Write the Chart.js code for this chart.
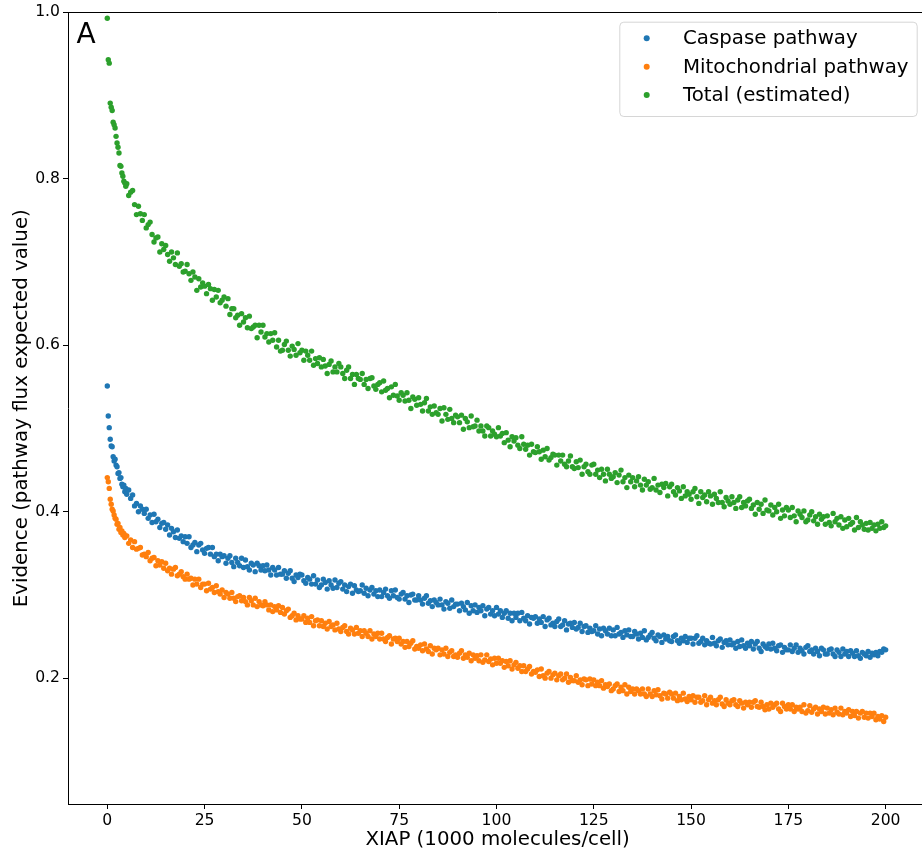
<!DOCTYPE html>
<html><head><meta charset="utf-8">
<script src="https://cdn.jsdelivr.net/npm/chart.js@4/dist/chart.umd.min.js"></script>
<style>
html,body{margin:0;padding:0;background:#fff;overflow:hidden;width:922px;height:855px;}
#wrap{position:relative;width:922px;height:855px;overflow:hidden;}
canvas{position:absolute;left:0;top:0;}
</style></head><body>
<div id="wrap"><canvas id="c" width="930" height="855"></canvas></div>
<script>
const xValues = [
0,0.25,0.5,0.75,1,1.25,1.5,1.75,2,2.25,2.5,2.75,3,3.25,3.5,3.75,4,4.25,4.5,4.75,
5,5.5,6,6.5,7,7.5,8,8.5,9,9.5,
10,10.5,11,11.5,12,12.5,13,13.5,14,14.5,
15,15.5,16,16.5,17,17.5,18,18.5,19,19.5,
20,20.5,21,21.5,22,22.5,23,23.5,24,24.5,
25,25.5,26,26.5,27,27.5,28,28.5,29,29.5,
30,30.5,31,31.5,32,32.5,33,33.5,34,34.5,
35,35.5,36,36.5,37,37.5,38,38.5,39,39.5,
40,40.5,41,41.5,42,42.5,43,43.5,44,44.5,
45,45.5,46,46.5,47,47.5,48,48.5,49,49.5,
50,50.5,51,51.5,52,52.5,53,53.5,54,54.5,
55,55.5,56,56.5,57,57.5,58,58.5,59,59.5,
60,60.5,61,61.5,62,62.5,63,63.5,64,64.5,
65,65.5,66,66.5,67,67.5,68,68.5,69,69.5,
70,70.5,71,71.5,72,72.5,73,73.5,74,74.5,
75,75.5,76,76.5,77,77.5,78,78.5,79,79.5,
80,80.5,81,81.5,82,82.5,83,83.5,84,84.5,
85,85.5,86,86.5,87,87.5,88,88.5,89,89.5,
90,90.5,91,91.5,92,92.5,93,93.5,94,94.5,
95,95.5,96,96.5,97,97.5,98,98.5,99,99.5,
100,100.5,101,101.5,102,102.5,103,103.5,104,104.5,
105,105.5,106,106.5,107,107.5,108,108.5,109,109.5,
110,110.5,111,111.5,112,112.5,113,113.5,114,114.5,
115,115.5,116,116.5,117,117.5,118,118.5,119,119.5,
120,120.5,121,121.5,122,122.5,123,123.5,124,124.5,
125,125.5,126,126.5,127,127.5,128,128.5,129,129.5,
130,130.5,131,131.5,132,132.5,133,133.5,134,134.5,
135,135.5,136,136.5,137,137.5,138,138.5,139,139.5,
140,140.5,141,141.5,142,142.5,143,143.5,144,144.5,
145,145.5,146,146.5,147,147.5,148,148.5,149,149.5,
150,150.5,151,151.5,152,152.5,153,153.5,154,154.5,
155,155.5,156,156.5,157,157.5,158,158.5,159,159.5,
160,160.5,161,161.5,162,162.5,163,163.5,164,164.5,
165,165.5,166,166.5,167,167.5,168,168.5,169,169.5,
170,170.5,171,171.5,172,172.5,173,173.5,174,174.5,
175,175.5,176,176.5,177,177.5,178,178.5,179,179.5,
180,180.5,181,181.5,182,182.5,183,183.5,184,184.5,
185,185.5,186,186.5,187,187.5,188,188.5,189,189.5,
190,190.5,191,191.5,192,192.5,193,193.5,194,194.5,
195,195.5,196,196.5,197,197.5,198,198.5,199,199.5,
200];

const caspase = [
0.551,0.515,0.501,0.487,0.479,0.478,0.466,0.461,0.463,0.456,0.454,0.446,0.447,0.440,0.441,0.433,0.430,0.432,0.424,0.428,
0.421,0.426,0.416,0.420,0.407,0.410,0.400,0.407,0.403,0.398,
0.403,0.392,0.396,0.387,0.397,0.388,0.391,0.381,0.386,0.387,
0.379,0.384,0.372,0.380,0.376,0.369,0.378,0.368,0.371,0.364,
0.370,0.362,0.370,0.357,0.360,0.363,0.352,0.360,0.362,0.354,
0.350,0.356,0.357,0.349,0.357,0.346,0.349,0.341,0.349,0.346,
0.347,0.338,0.344,0.347,0.339,0.334,0.344,0.339,0.335,0.344,
0.333,0.342,0.334,0.330,0.338,0.336,0.328,0.338,0.335,0.330,
0.335,0.329,0.336,0.330,0.324,0.333,0.330,0.324,0.333,0.325,
0.325,0.329,0.320,0.326,0.329,0.320,0.316,0.324,0.321,0.325,
0.324,0.317,0.314,0.321,0.319,0.313,0.323,0.313,0.318,0.309,
0.312,0.319,0.315,0.307,0.317,0.312,0.308,0.318,0.309,0.314,
0.316,0.307,0.312,0.304,0.310,0.313,0.302,0.311,0.306,0.304,
0.305,0.312,0.302,0.308,0.299,0.306,0.309,0.301,0.305,0.298,
0.306,0.298,0.303,0.307,0.299,0.296,0.305,0.299,0.306,0.297,
0.295,0.301,0.303,0.295,0.299,0.291,0.300,0.301,0.294,0.294,
0.299,0.294,0.289,0.296,0.299,0.290,0.293,0.286,0.294,0.291,
0.288,0.295,0.288,0.283,0.292,0.290,0.284,0.294,0.286,0.289,
0.289,0.281,0.290,0.286,0.282,0.291,0.278,0.287,0.281,0.288,
0.279,0.285,0.281,0.287,0.275,0.283,0.285,0.277,0.281,0.275,
0.285,0.277,0.281,0.273,0.278,0.281,0.272,0.278,0.269,0.278,
0.273,0.278,0.269,0.279,0.272,0.269,0.275,0.265,0.273,0.272,
0.274,0.266,0.271,0.267,0.274,0.262,0.270,0.272,0.264,0.266,
0.262,0.268,0.271,0.262,0.264,0.269,0.258,0.265,0.266,0.261,
0.267,0.259,0.261,0.266,0.256,0.262,0.263,0.255,0.260,0.256,
0.257,0.263,0.253,0.259,0.251,0.260,0.257,0.253,0.260,0.251,
0.258,0.251,0.261,0.253,0.255,0.249,0.257,0.252,0.258,0.250,
0.250,0.256,0.253,0.247,0.254,0.249,0.257,0.246,0.249,0.252,
0.255,0.248,0.245,0.252,0.250,0.243,0.252,0.247,0.250,0.245,
0.244,0.250,0.252,0.245,0.242,0.248,0.245,0.250,0.243,0.248,
0.248,0.241,0.248,0.251,0.242,0.244,0.248,0.240,0.245,0.242,
0.241,0.249,0.242,0.239,0.245,0.247,0.237,0.243,0.245,0.240,
0.246,0.240,0.242,0.236,0.244,0.238,0.246,0.239,0.236,0.242,
0.239,0.244,0.235,0.241,0.244,0.236,0.232,0.241,0.238,0.236,
0.241,0.235,0.242,0.236,0.233,0.239,0.240,0.231,0.237,0.234,
0.234,0.240,0.232,0.236,0.240,0.231,0.236,0.233,0.229,0.237,
0.239,0.232,0.234,0.229,0.236,0.232,0.227,0.236,0.234,0.229,
0.229,0.234,0.235,0.229,0.226,0.234,0.231,0.226,0.235,0.229,
0.232,0.226,0.233,0.230,0.226,0.233,0.227,0.224,0.231,0.229,
0.227,0.232,0.225,0.230,0.228,0.231,0.227,0.232,0.231,0.235,
0.234];

const mitochondrial = [
0.441,0.436,0.428,0.415,0.409,0.403,0.401,0.396,0.392,0.391,0.385,0.386,0.379,0.381,0.375,0.377,0.372,0.374,0.369,0.371,
0.371,0.362,0.366,0.357,0.364,0.355,0.356,0.357,0.348,0.349,
0.346,0.351,0.341,0.344,0.345,0.335,0.341,0.336,0.340,0.332,
0.338,0.329,0.332,0.325,0.331,0.333,0.323,0.325,0.328,0.322,
0.319,0.325,0.319,0.320,0.312,0.319,0.313,0.319,0.309,0.313,
0.313,0.305,0.314,0.307,0.309,0.303,0.311,0.304,0.301,0.306,
0.297,0.303,0.301,0.296,0.303,0.296,0.292,0.298,0.299,0.293,
0.297,0.292,0.288,0.297,0.293,0.288,0.296,0.286,0.292,0.288,
0.287,0.292,0.288,0.282,0.288,0.280,0.286,0.282,0.287,0.279,
0.285,0.277,0.281,0.283,0.273,0.275,0.278,0.270,0.275,0.271,
0.271,0.275,0.267,0.272,0.267,0.274,0.263,0.269,0.270,0.263,
0.269,0.262,0.266,0.259,0.268,0.262,0.264,0.258,0.266,0.259,
0.256,0.261,0.263,0.256,0.253,0.260,0.258,0.253,0.261,0.254,
0.257,0.250,0.257,0.254,0.250,0.257,0.247,0.253,0.250,0.254,
0.247,0.254,0.247,0.244,0.249,0.251,0.241,0.247,0.248,0.244,
0.248,0.241,0.244,0.237,0.244,0.238,0.242,0.245,0.235,0.238,
0.236,0.240,0.233,0.241,0.235,0.232,0.239,0.229,0.236,0.234,
0.236,0.228,0.234,0.229,0.236,0.226,0.231,0.233,0.226,0.228,
0.225,0.230,0.233,0.224,0.228,0.225,0.230,0.221,0.228,0.224,
0.227,0.221,0.228,0.219,0.222,0.228,0.220,0.223,0.216,0.224,
0.218,0.224,0.218,0.221,0.213,0.220,0.215,0.221,0.211,0.216,
0.219,0.212,0.215,0.208,0.215,0.208,0.211,0.214,0.205,0.208,
0.207,0.210,0.202,0.211,0.203,0.200,0.206,0.208,0.200,0.204,
0.206,0.198,0.203,0.205,0.198,0.200,0.205,0.195,0.201,0.197,
0.197,0.203,0.195,0.198,0.192,0.199,0.198,0.191,0.199,0.193,
0.198,0.191,0.195,0.191,0.197,0.188,0.192,0.190,0.193,0.185,
0.187,0.191,0.193,0.184,0.189,0.185,0.192,0.181,0.189,0.184,
0.187,0.181,0.187,0.185,0.181,0.187,0.181,0.178,0.187,0.181,
0.178,0.185,0.180,0.186,0.179,0.175,0.182,0.181,0.176,0.183,
0.181,0.176,0.182,0.173,0.178,0.174,0.182,0.175,0.172,0.178,
0.174,0.179,0.171,0.177,0.177,0.171,0.173,0.179,0.168,0.174,
0.177,0.170,0.173,0.168,0.174,0.177,0.169,0.166,0.174,0.170,
0.168,0.173,0.174,0.168,0.166,0.173,0.170,0.164,0.171,0.168,
0.171,0.165,0.171,0.173,0.166,0.165,0.171,0.166,0.162,0.168,
0.163,0.170,0.165,0.168,0.170,0.163,0.160,0.170,0.166,0.163,
0.168,0.163,0.168,0.160,0.165,0.163,0.165,0.160,0.168,0.158,
0.161,0.167,0.159,0.163,0.165,0.157,0.163,0.160,0.165,0.157,
0.164,0.158,0.162,0.156,0.164,0.159,0.157,0.164,0.156,0.160,
0.158,0.162,0.154,0.160,0.155,0.160,0.152,0.158,0.160,0.153,
0.158,0.152,0.158,0.154,0.158,0.150,0.154,0.151,0.155,0.148,
0.153];

const totalEstimated = [
0.993,0.943,0.939,0.891,0.886,0.882,0.868,0.865,0.861,0.851,0.843,0.838,0.831,0.816,0.815,0.807,0.803,0.797,0.795,0.791,
0.794,0.780,0.784,0.786,0.769,0.757,0.767,0.758,0.750,0.757,
0.741,0.745,0.748,0.733,0.724,0.729,0.730,0.712,0.722,0.715,
0.720,0.709,0.701,0.712,0.705,0.697,0.711,0.695,0.698,0.688,
0.689,0.697,0.686,0.678,0.688,0.682,0.666,0.680,0.670,0.675,
0.671,0.662,0.673,0.668,0.654,0.667,0.658,0.666,0.651,0.654,
0.658,0.647,0.656,0.637,0.644,0.644,0.633,0.636,0.624,0.638,
0.628,0.633,0.621,0.635,0.620,0.622,0.624,0.609,0.624,0.616,
0.624,0.610,0.614,0.604,0.614,0.606,0.615,0.598,0.606,0.593,
0.594,0.601,0.605,0.594,0.587,0.599,0.595,0.588,0.602,0.591,
0.594,0.582,0.593,0.588,0.582,0.593,0.576,0.584,0.578,0.585,
0.574,0.583,0.575,0.566,0.577,0.581,0.568,0.574,0.568,0.578,
0.574,0.566,0.560,0.570,0.574,0.560,0.565,0.553,0.565,0.560,
0.559,0.566,0.553,0.559,0.548,0.560,0.561,0.551,0.547,0.553,
0.555,0.544,0.557,0.546,0.548,0.537,0.550,0.540,0.553,0.539,
0.534,0.543,0.540,0.533,0.543,0.534,0.524,0.538,0.535,0.528,
0.537,0.529,0.521,0.531,0.536,0.521,0.526,0.517,0.527,0.519,
0.517,0.524,0.509,0.525,0.517,0.511,0.523,0.512,0.507,0.516,
0.514,0.507,0.516,0.499,0.512,0.508,0.501,0.515,0.502,0.503,
0.510,0.497,0.503,0.497,0.491,0.503,0.501,0.491,0.497,0.493,
0.490,0.501,0.491,0.494,0.483,0.495,0.486,0.478,0.490,0.485,
0.489,0.480,0.476,0.490,0.481,0.475,0.480,0.468,0.481,0.472,
0.471,0.478,0.472,0.463,0.474,0.466,0.476,0.462,0.465,0.469,
0.468,0.456,0.468,0.461,0.468,0.457,0.454,0.461,0.467,0.454,
0.452,0.460,0.453,0.462,0.445,0.454,0.457,0.448,0.445,0.456,
0.457,0.445,0.450,0.441,0.451,0.445,0.437,0.451,0.445,0.440,
0.442,0.447,0.435,0.444,0.450,0.436,0.441,0.429,0.444,0.436,
0.441,0.430,0.437,0.442,0.432,0.426,0.439,0.432,0.436,0.427,
0.429,0.440,0.426,0.432,0.423,0.433,0.429,0.434,0.419,0.430,
0.433,0.424,0.420,0.429,0.425,0.416,0.430,0.419,0.424,0.421,
0.415,0.424,0.428,0.418,0.410,0.424,0.417,0.420,0.412,0.424,
0.419,0.409,0.421,0.416,0.411,0.424,0.411,0.406,0.417,0.413,
0.409,0.418,0.411,0.404,0.414,0.418,0.405,0.411,0.407,0.413,
0.415,0.404,0.408,0.397,0.411,0.403,0.409,0.398,0.414,0.402,
0.401,0.408,0.396,0.405,0.400,0.409,0.392,0.402,0.395,0.405,
0.402,0.393,0.405,0.395,0.388,0.401,0.397,0.393,0.401,0.388,
0.390,0.396,0.400,0.389,0.394,0.385,0.397,0.391,0.394,0.385,
0.395,0.387,0.383,0.398,0.388,0.392,0.384,0.394,0.380,0.390,
0.382,0.392,0.385,0.387,0.378,0.393,0.381,0.388,0.384,0.379,
0.386,0.378,0.387,0.380,0.384,0.377,0.385,0.380,0.388,0.381,
0.383];

const seriesLabels = ['Caspase pathway', 'Mitochondrial pathway', 'Total (estimated)'];
const xTicks = [0, 25, 50, 75, 100, 125, 150, 175, 200];
const yTicks = [0.2, 0.4, 0.6, 0.8, 1.0];
const yTickLabels = ['0.2', '0.4', '0.6', '0.8', '1.0'];
const xTitle = 'XIAP (1000 molecules/cell)';
const yTitle = 'Evidence (pathway flux expected value)';
const panelLabel = 'A';

const colors = ['#1f77b4', '#ff7f0e', '#2ca02c'];
const FONT = '"DejaVu Sans", sans-serif';
const seriesValues = [caspase, mitochondrial, totalEstimated];

const datasets = seriesValues.map((vals, i) => ({
  label: seriesLabels[i],
  data: vals.map((y, j) => ({ x: xValues[j], y: y })),
  backgroundColor: colors[i],
  borderColor: colors[i],
  pointRadius: 2.7,
  pointHoverRadius: 2.7,
  pointBorderWidth: 0
}));

const decor = {
  id: 'decor',
  afterDraw(chart) {
    const ctx = chart.ctx, a = chart.chartArea;
    ctx.save();
    ctx.strokeStyle = '#000';
    ctx.lineWidth = 1;
    const ty = Math.floor(a.top) + 0.5;
    ctx.beginPath();
    ctx.moveTo(a.left, ty); ctx.lineTo(a.right, ty);
    ctx.moveTo(a.right - 0.5, a.top); ctx.lineTo(a.right - 0.5, a.bottom);
    ctx.stroke();
    ctx.fillStyle = '#000';
    ctx.font = '28px ' + FONT;
    ctx.textAlign = 'left';
    ctx.textBaseline = 'alphabetic';
    ctx.fillText(panelLabel, a.left + 8.5, a.top + 31);
    const bx = 619.3, by = 21.7, bw = 297.4, bh = 94.3;
    ctx.beginPath();
    ctx.roundRect(bx + 0.5, by + 0.5, bw, bh, 4);
    ctx.fillStyle = 'rgba(255,255,255,0.8)';
    ctx.fill();
    ctx.strokeStyle = 'rgba(204,204,204,0.8)';
    ctx.stroke();
    const rows = [38.3, 66.7, 95.0];
    ctx.font = '19.8px ' + FONT;
    ctx.textBaseline = 'middle';
    chart.data.datasets.forEach((ds, i) => {
      ctx.beginPath();
      ctx.arc(646.7, rows[i], 3.0, 0, Math.PI * 2);
      ctx.fillStyle = ds.backgroundColor;
      ctx.fill();
      ctx.fillStyle = '#000';
      ctx.fillText(ds.label, 683, rows[i] + 1);
    });
    ctx.restore();
  }
};

new Chart(document.getElementById('c'), {
  type: 'scatter',
  data: { datasets },
  plugins: [decor],
  options: {
    responsive: false,
    animation: false,
    devicePixelRatio: 1,
    layout: { padding: { left: 0, right: 0, top: 11.7, bottom: 0 } },
    plugins: { legend: { display: false }, tooltip: { enabled: false } },
    scales: {
      x: {
        type: 'linear',
        min: -10.1,
        max: 210.7,
        afterFit(s) { s.height = 51; },
        afterBuildTicks(s) { s.ticks = xTicks.map(v => ({ value: v })); },
        ticks: { font: { family: FONT, size: 15.6 }, color: '#000', padding: 3, maxRotation: 0, autoSkip: false,
                 callback: v => String(v) },
        grid: { drawOnChartArea: false, drawTicks: true, tickLength: 5, color: '#000', tickWidth: 1 },
        border: { display: true, color: '#000', width: 1 },
        title: { display: true, text: xTitle, color: '#000', font: { family: FONT, size: 19.8 }, padding: { top: 0, bottom: 3.5 } }
      },
      y: {
        type: 'linear',
        min: 0.0488,
        max: 1.0,
        afterFit(s) { s.width = 68; },
        afterBuildTicks(s) { s.ticks = yTicks.map(v => ({ value: v })); },
        ticks: { font: { family: FONT, size: 15.6 }, color: '#000', padding: 3, autoSkip: false,
                 callback: v => yTickLabels[yTicks.indexOf(v)] },
        grid: { drawOnChartArea: false, drawTicks: true, tickLength: 5, color: '#000', tickWidth: 1 },
        border: { display: true, color: '#000', width: 1 },
        title: { display: true, text: yTitle, color: '#000', font: { family: FONT, size: 19.8 }, padding: { top: 10.2, bottom: 0 } }
      }
    }
  }
});
</script>
</body></html>
